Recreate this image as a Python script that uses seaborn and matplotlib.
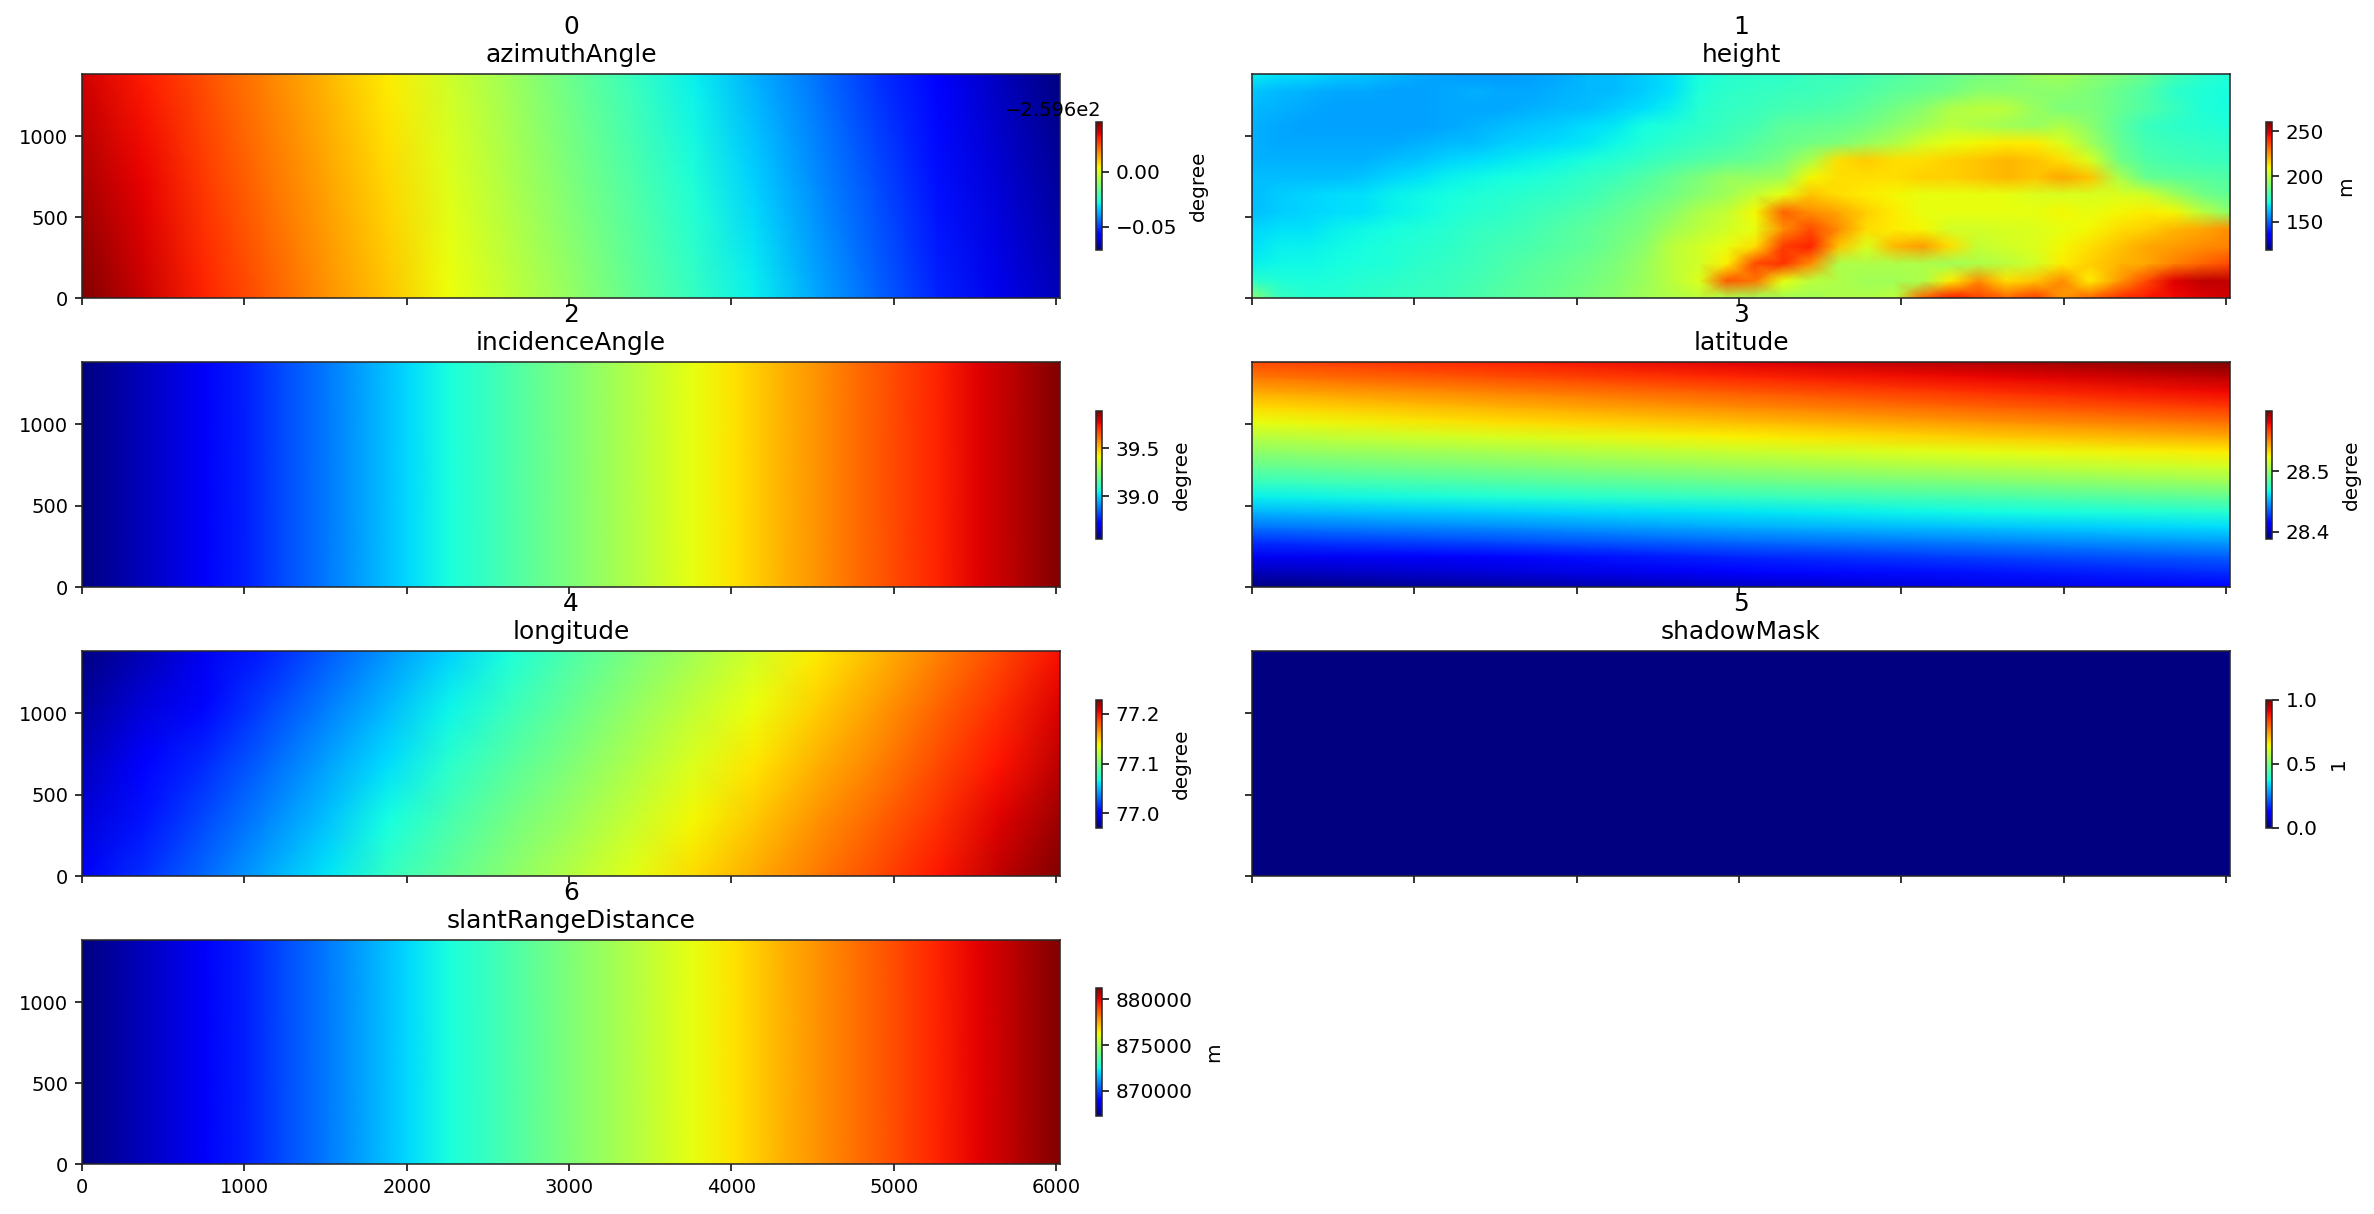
import matplotlib
matplotlib.use('Agg')
import matplotlib.pyplot as plt
from matplotlib.transforms import Affine2D
import numpy as np
import seaborn as sns

sns.set_style('ticks')
plt.rcParams['font.family'] = ['DejaVu Sans']
plt.rcParams.update({
    'text.color': 'black', 'axes.labelcolor': 'black',
    'xtick.color': 'black', 'ytick.color': 'black',
    'xtick.major.size': 3.5, 'ytick.major.size': 3.5,
    'xtick.major.width': 0.8, 'ytick.major.width': 0.8,
    'axes.linewidth': 0.8, 'font.size': 10,
})

DPI = 140
WIDTH = 2374
HEIGHT = 1214

# image size in data units
n_range = 6024
n_azimuth = 1383
x_ticks = [0, 1000, 2000, 3000, 4000, 5000, 6000]
y_ticks = [0, 500, 1000]

# every grid is written top row first, left column first
azimuth = [
    [-259.5627, -259.5685, -259.5749, -259.5813, -259.5877, -259.5941, -259.6011, -259.6081, -259.6151,
     -259.6221, -259.6291, -259.6361, -259.6430, -259.6506, -259.6576, -259.6646, -259.671],
    [-259.5586, -259.5653, -259.5721, -259.5787, -259.5852, -259.5918, -259.5988, -259.6055, -259.6123,
     -259.6191, -259.6259, -259.6326, -259.6401, -259.6477, -259.6550, -259.6622, -259.6681],
    [-259.5545, -259.5621, -259.5693, -259.5761, -259.5828, -259.5895, -259.5964, -259.6029, -259.6095,
     -259.6162, -259.6227, -259.6291, -259.6372, -259.6448, -259.6524, -259.6599, -259.6652],
]
incidence = [
    [38.556, 38.604, 38.652, 38.701, 38.764, 38.824, 38.884, 38.945, 39.008, 39.065, 39.120, 39.176, 39.231,
     39.288, 39.343, 39.399, 39.455, 39.510, 39.564, 39.619, 39.671, 39.724, 39.781, 39.838, 39.896],
    [38.556, 38.604, 38.652, 38.701, 38.764, 38.824, 38.884, 38.945, 39.008, 39.065, 39.120, 39.176, 39.231,
     39.288, 39.343, 39.399, 39.455, 39.510, 39.564, 39.619, 39.671, 39.724, 39.781, 39.838, 39.896],
]
latitude = [
    [28.564, 28.573, 28.582, 28.591, 28.600],
    [28.554, 28.563, 28.572, 28.580, 28.589],
    [28.543, 28.552, 28.561, 28.570, 28.579],
    [28.532, 28.541, 28.550, 28.559, 28.568],
    [28.522, 28.531, 28.539, 28.548, 28.556],
    [28.510, 28.518, 28.527, 28.535, 28.543],
    [28.499, 28.506, 28.514, 28.521, 28.528],
    [28.488, 28.495, 28.502, 28.509, 28.516],
    [28.477, 28.483, 28.490, 28.496, 28.503],
    [28.465, 28.471, 28.477, 28.482, 28.488],
    [28.453, 28.458, 28.463, 28.468, 28.473],
    [28.440, 28.445, 28.451, 28.456, 28.461],
    [28.425, 28.431, 28.437, 28.442, 28.448],
    [28.410, 28.416, 28.423, 28.429, 28.435],
    [28.400, 28.406, 28.413, 28.419, 28.425],
    [28.389, 28.395, 28.402, 28.408, 28.414],
]
longitude = [
    [76.971, 76.984, 76.997, 77.011, 77.026, 77.041, 77.056, 77.070, 77.085, 77.099, 77.113, 77.127, 77.141,
     77.155, 77.170, 77.185, 77.201],
    [76.978, 76.992, 77.005, 77.020, 77.035, 77.050, 77.065, 77.079, 77.093, 77.108, 77.122, 77.135, 77.149,
     77.163, 77.178, 77.193, 77.208],
    [76.985, 77.000, 77.014, 77.029, 77.044, 77.059, 77.074, 77.088, 77.102, 77.116, 77.130, 77.143, 77.157,
     77.170, 77.185, 77.200, 77.215],
    [76.992, 77.008, 77.022, 77.037, 77.052, 77.068, 77.083, 77.097, 77.110, 77.124, 77.138, 77.151, 77.165,
     77.178, 77.192, 77.207, 77.222],
    [76.999, 77.015, 77.030, 77.046, 77.061, 77.077, 77.091, 77.105, 77.118, 77.132, 77.146, 77.159, 77.172,
     77.185, 77.199, 77.214, 77.229],
]
slant = [
    [867246, 867749, 868253, 868756, 869414, 870043, 870673, 871302, 871959, 872561, 873134, 873721, 874295,
     874882, 875456, 876043, 876630, 877204, 877764, 878336, 878882, 879442, 880029, 880630, 881232],
    [867246, 867749, 868253, 868756, 869414, 870043, 870673, 871302, 871959, 872561, 873134, 873721, 874295,
     874882, 875456, 876043, 876630, 877204, 877764, 878336, 878882, 879442, 880029, 880630, 881232],
]
shadow = [[0, 0], [0, 0]]
height = [
    [170, 168, 167, 165, 164, 162, 160, 159, 158, 158, 159, 160, 162, 163, 165, 168, 172, 175, 176, 176, 178, 178, 180, 182, 184, 186, 188, 190, 194, 196, 192, 190, 186, 180, 176, 174],
    [164, 162, 161, 160, 160, 159, 159, 160, 161, 160, 160, 161, 162, 163, 165, 168, 174, 176, 177, 178, 179, 180, 182, 184, 186, 188, 192, 192, 192, 192, 190, 186, 182, 176, 174, 172],
    [162, 161, 160, 159, 159, 159, 159, 160, 160, 160, 161, 162, 163, 165, 167, 170, 175, 177, 178, 180, 181, 182, 185, 188, 192, 198, 200, 200, 194, 190, 190, 186, 182, 178, 174, 172],
    [161, 160, 159, 159, 159, 159, 159, 160, 161, 163, 164, 165, 167, 169, 172, 174, 176, 178, 180, 184, 185, 186, 188, 192, 196, 200, 198, 196, 194, 198, 192, 184, 178, 176, 175, 174],
    [161, 160, 160, 160, 160, 160, 161, 162, 163, 165, 166, 167, 169, 171, 174, 176, 178, 180, 183, 186, 188, 190, 194, 198, 204, 208, 210, 212, 212, 206, 196, 186, 180, 178, 177, 176],
    [161, 161, 161, 161, 161, 163, 164, 166, 167, 169, 170, 171, 173, 175, 177, 180, 182, 184, 186, 190, 198, 214, 217, 214, 214, 216, 218, 220, 218, 214, 205, 188, 182, 180, 179, 178],
    [163, 163, 163, 163, 164, 166, 168, 170, 171, 172, 173, 175, 177, 179, 182, 186, 190, 194, 194, 196, 210, 214, 214, 214, 216, 216, 218, 220, 218, 222, 218, 198, 186, 184, 183, 182],
    [163, 165, 166, 167, 168, 170, 171, 172, 174, 175, 176, 177, 179, 182, 185, 188, 192, 196, 202, 208, 218, 214, 212, 210, 208, 208, 208, 208, 206, 205, 205, 206, 204, 196, 188, 185],
    [163, 165, 166, 167, 168, 170, 171, 173, 175, 176, 178, 180, 182, 185, 188, 192, 198, 202, 210, 232, 226, 222, 216, 212, 208, 208, 208, 208, 208, 210, 208, 210, 212, 210, 200, 192],
    [166, 168, 168, 170, 171, 172, 174, 175, 177, 178, 180, 182, 184, 187, 190, 196, 200, 204, 208, 226, 236, 226, 214, 212, 210, 204, 204, 205, 206, 208, 210, 214, 216, 220, 222, 226],
    [168, 170, 170, 171, 172, 174, 175, 176, 178, 180, 181, 183, 185, 188, 192, 200, 204, 208, 214, 238, 242, 218, 206, 220, 224, 214, 202, 204, 206, 210, 214, 218, 222, 224, 226, 228],
    [170, 171, 171, 172, 173, 174, 176, 177, 179, 181, 183, 185, 187, 190, 194, 200, 204, 212, 236, 240, 226, 198, 198, 198, 198, 196, 198, 200, 204, 212, 216, 220, 222, 228, 232, 236],
    [176, 174, 173, 174, 175, 176, 177, 178, 180, 182, 184, 186, 188, 191, 195, 200, 206, 234, 230, 208, 200, 198, 196, 196, 198, 212, 226, 214, 218, 226, 212, 224, 236, 248, 252, 252],
    [192, 178, 175, 175, 176, 177, 178, 179, 181, 183, 185, 187, 189, 192, 196, 198, 200, 198, 196, 196, 196, 198, 198, 200, 232, 244, 238, 232, 238, 225, 232, 240, 244, 246, 248, 250],
]

# title, data, unit, colour limits, colourbar ticks
panels = [
    ('azimuthAngle', azimuth, 'degree', (-259.671, -259.5545), [-259.65, -259.60]),
    ('height', height, 'm', (119, 260), [150, 200, 250]),
    ('incidenceAngle', incidence, 'degree', (38.556, 39.896), [39.0, 39.5]),
    ('latitude', latitude, 'degree', (28.389, 28.600), [28.4, 28.5]),
    ('longitude', longitude, 'degree', (76.971, 77.229), [77.0, 77.1, 77.2]),
    ('shadowMask', shadow, '1', (0, 1), [0.0, 0.5, 1.0]),
    ('slantRangeDistance', slant, 'm', (867246, 881232), [870000, 875000, 880000]),
]

# axes edges in pixels of the final picture
col_left = [82, 1252]
col_right = [1060, 2230]
row_top = [74, 362, 651, 940]
row_bottom = [298, 587, 876, 1164]
cbar_left = [1096, 2266]
cbar_width = 6
cbar_height = 128


def to_fig(left, top, right, bottom):
    return [left / WIDTH, 1 - bottom / HEIGHT, (right - left) / WIDTH, (bottom - top) / HEIGHT]


fig = plt.figure(figsize=(WIDTH / DPI, HEIGHT / DPI), dpi=DPI)

for i, (name, grid, unit, limits, cticks) in enumerate(panels):
    row, col = i // 2, i % 2
    top, bottom = row_top[row], row_bottom[row]
    ax = fig.add_axes(to_fig(col_left[col], top, col_right[col], bottom))
    middle = (top + bottom) / 2
    cax = fig.add_axes(to_fig(cbar_left[col], middle - cbar_height / 2,
                              cbar_left[col] + cbar_width, middle + cbar_height / 2))

    values = np.array(grid, dtype=float)[::-1]
    sns.heatmap(values, ax=ax, cbar_ax=cax, cmap='jet', vmin=limits[0], vmax=limits[1],
                xticklabels=False, yticklabels=False, shading='gouraud',
                cbar_kws={'ticks': cticks})

    # stretch the grid over the full image size
    mesh = ax.collections[0]
    mesh.set_transform(Affine2D().scale(n_range / (values.shape[1] - 1),
                                        n_azimuth / (values.shape[0] - 1)) + ax.transData)
    ax.set_xlim(0, n_range)
    ax.set_ylim(0, n_azimuth)
    for spine in ax.spines.values():
        spine.set_visible(True)

    cbar = mesh.colorbar
    cbar.outline.set_linewidth(0.8)
    cbar.set_label(unit, fontsize=10.3, labelpad=6)
    cbar.ax.tick_params(labelsize=10.3)

    x_labels = [str(t) for t in x_ticks] if i == 6 else []
    y_labels = [str(t) for t in y_ticks] if col == 0 else []
    ax.set_xticks(x_ticks, labels=x_labels, rotation=0)
    ax.set_yticks(y_ticks, labels=y_labels, rotation=0, va='center_baseline')

    ax.set_title(name, fontsize=12.8)
    ax.annotate(str(i), xy=(0.5, 1), xycoords='axes fraction', xytext=(0, 47 * 72 / DPI),
                textcoords='offset points', ha='center', va='center', fontsize=12.8)

fig.savefig('out.png', dpi=DPI)
